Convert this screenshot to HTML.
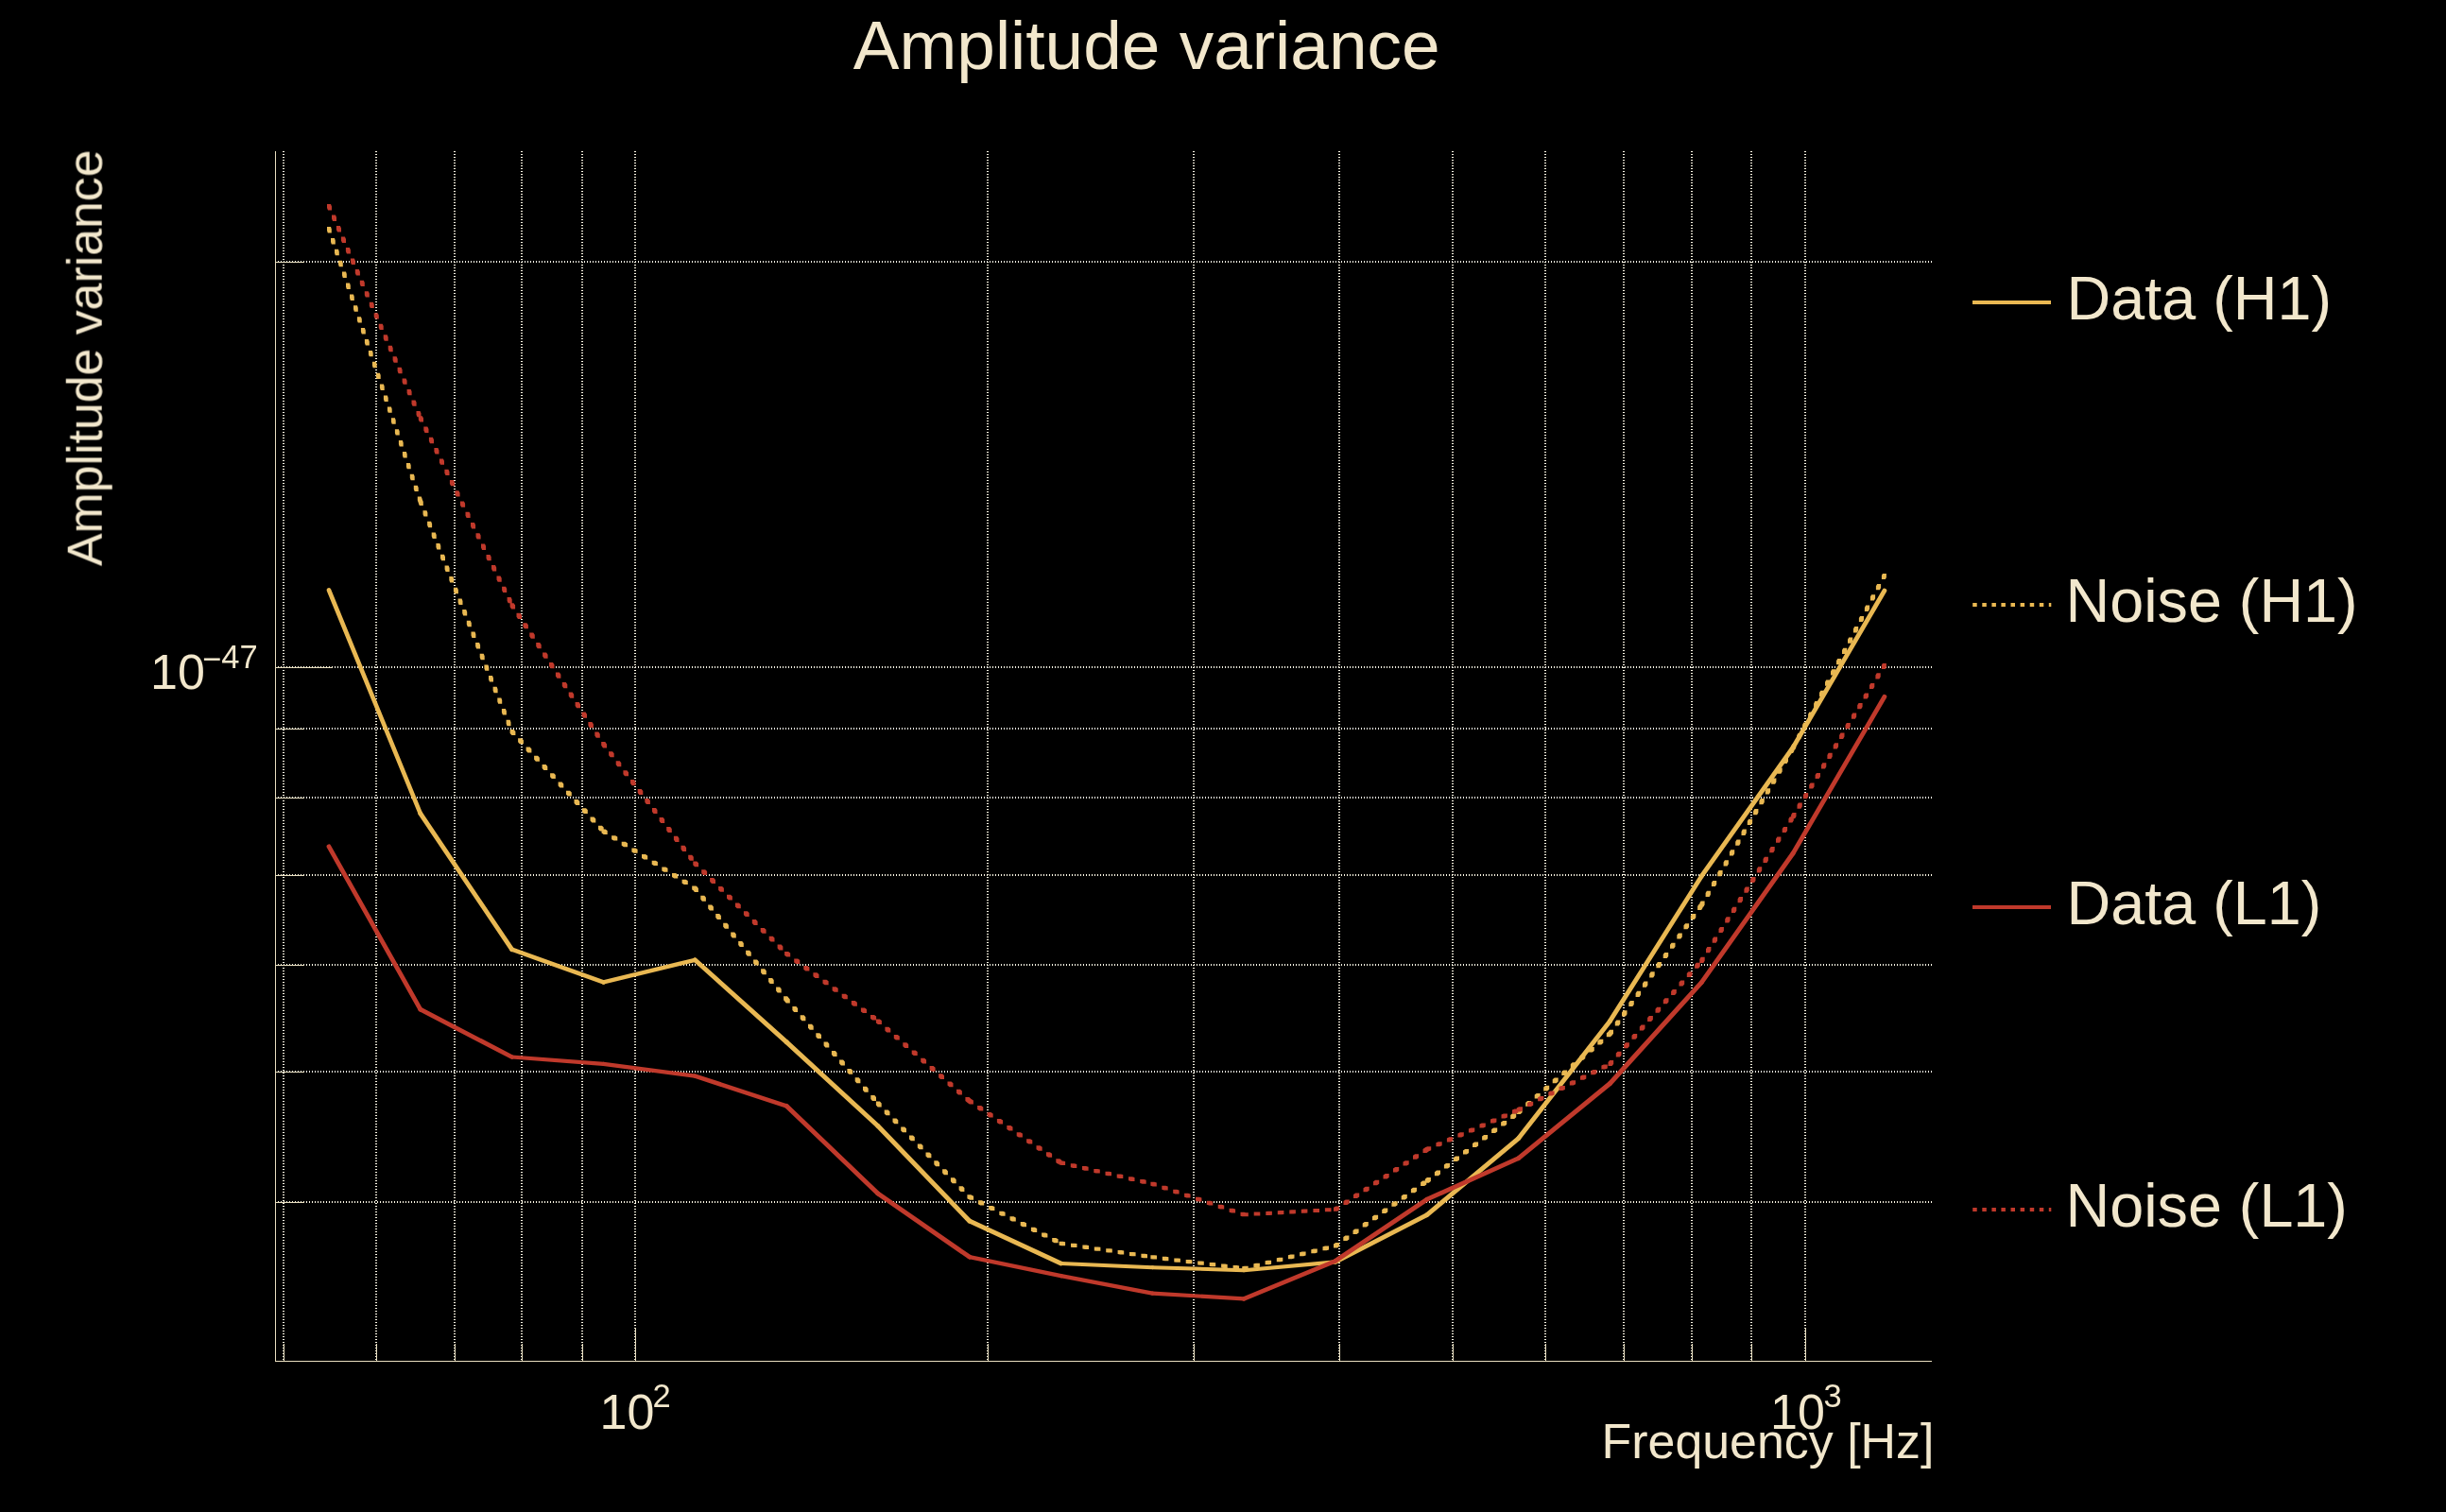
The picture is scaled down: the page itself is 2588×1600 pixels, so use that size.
<!DOCTYPE html>
<html lang="en"><head><meta charset="utf-8"><title>Amplitude variance</title>
<style>html,body{margin:0;padding:0;background:#000;overflow:hidden}svg{display:block}text{font-family:"Liberation Sans",sans-serif;fill:#f3e8cd}</style></head><body>
<svg width="2588" height="1600" viewBox="0 0 2588 1600">
<rect width="2588" height="1600" fill="#000"/>
<g stroke="#fdf8e6" stroke-width="2" stroke-dasharray="1 2" fill="none" shape-rendering="crispEdges">
<line x1="300" y1="160" x2="300" y2="1440"/>
<line x1="398" y1="160" x2="398" y2="1440"/>
<line x1="481" y1="160" x2="481" y2="1440"/>
<line x1="552" y1="160" x2="552" y2="1440"/>
<line x1="616" y1="160" x2="616" y2="1440"/>
<line x1="1045" y1="160" x2="1045" y2="1440"/>
<line x1="1263" y1="160" x2="1263" y2="1440"/>
<line x1="1417" y1="160" x2="1417" y2="1440"/>
<line x1="1537" y1="160" x2="1537" y2="1440"/>
<line x1="1635" y1="160" x2="1635" y2="1440"/>
<line x1="1718" y1="160" x2="1718" y2="1440"/>
<line x1="1790" y1="160" x2="1790" y2="1440"/>
<line x1="1853" y1="160" x2="1853" y2="1440"/>
<line x1="672" y1="160" x2="672" y2="1440"/>
<line x1="1910" y1="160" x2="1910" y2="1440"/>
<line x1="291" y1="277.0" x2="2044" y2="277.0"/>
<line x1="291" y1="706.0" x2="2044" y2="706.0"/>
<line x1="291" y1="771.0" x2="2044" y2="771.0"/>
<line x1="291" y1="844.0" x2="2044" y2="844.0"/>
<line x1="291" y1="926.0" x2="2044" y2="926.0"/>
<line x1="291" y1="1021.0" x2="2044" y2="1021.0"/>
<line x1="291" y1="1134.0" x2="2044" y2="1134.0"/>
<line x1="291" y1="1272.0" x2="2044" y2="1272.0"/>
</g>
<g fill="#e9dfc0" shape-rendering="crispEdges">
<rect x="291" y="160" width="1" height="1281"/>
<rect x="291" y="1440" width="1753" height="1"/>
<rect x="300" y="1422" width="1" height="18"/>
<rect x="398" y="1422" width="1" height="18"/>
<rect x="481" y="1422" width="1" height="18"/>
<rect x="552" y="1422" width="1" height="18"/>
<rect x="616" y="1422" width="1" height="18"/>
<rect x="1045" y="1422" width="1" height="18"/>
<rect x="1263" y="1422" width="1" height="18"/>
<rect x="1417" y="1422" width="1" height="18"/>
<rect x="1537" y="1422" width="1" height="18"/>
<rect x="1635" y="1422" width="1" height="18"/>
<rect x="1718" y="1422" width="1" height="18"/>
<rect x="1790" y="1422" width="1" height="18"/>
<rect x="1853" y="1422" width="1" height="18"/>
<rect x="672" y="1405" width="1" height="35"/>
<rect x="1910" y="1405" width="1" height="35"/>
<rect x="291" y="277" width="31" height="1"/>
<rect x="291" y="706" width="61" height="1"/>
<rect x="291" y="771" width="31" height="1"/>
<rect x="291" y="844" width="31" height="1"/>
<rect x="291" y="926" width="31" height="1"/>
<rect x="291" y="1021" width="31" height="1"/>
<rect x="291" y="1134" width="31" height="1"/>
<rect x="291" y="1272" width="31" height="1"/>
</g>
<g fill="none" stroke-width="4.3" stroke-linejoin="round" stroke-linecap="round">
<g stroke="#e9b852">
<line x1="348.0" y1="624.5" x2="444.8" y2="860.8" stroke-width="4.63"/>
<line x1="444.8" y1="860.8" x2="541.6" y2="1004.7" stroke-width="4.83"/>
<line x1="541.6" y1="1004.7" x2="638.5" y2="1039.4" stroke-width="4.57"/>
<line x1="638.5" y1="1039.4" x2="735.3" y2="1015.8" stroke-width="4.41"/>
<line x1="735.3" y1="1015.8" x2="832.1" y2="1102.6" stroke-width="4.89"/>
<line x1="832.1" y1="1102.6" x2="928.9" y2="1191.5" stroke-width="4.90"/>
<line x1="928.9" y1="1191.5" x2="1025.7" y2="1292.0" stroke-width="4.90"/>
<line x1="1025.7" y1="1292.0" x2="1122.6" y2="1337.0" stroke-width="4.69"/>
<line x1="1122.6" y1="1337.0" x2="1219.4" y2="1341.2" stroke-width="4.08"/>
<line x1="1219.4" y1="1341.2" x2="1316.2" y2="1344.2" stroke-width="4.06"/>
<line x1="1316.2" y1="1344.2" x2="1413.0" y2="1335.4" stroke-width="4.16"/>
<line x1="1413.0" y1="1335.4" x2="1509.8" y2="1285.6" stroke-width="4.73"/>
<line x1="1509.8" y1="1285.6" x2="1606.7" y2="1204.5" stroke-width="4.89"/>
<line x1="1606.7" y1="1204.5" x2="1703.5" y2="1080.4" stroke-width="4.87"/>
<line x1="1703.5" y1="1080.4" x2="1800.3" y2="927.2" stroke-width="4.81"/>
<line x1="1800.3" y1="927.2" x2="1897.1" y2="791.0" stroke-width="4.85"/>
<line x1="1897.1" y1="791.0" x2="1993.9" y2="625.0" stroke-width="4.78"/>
</g>
<path fill="#e9b852" stroke="none" d="M346 240L350 240L350.8 242.5L350.8 246.5L346.8 246.5L346 244ZM350 251.9L354 251.9L354.8 254.4L354.8 258.4L350.8 258.4L350 255.9ZM354 263.8L358 263.8L358.8 266.3L358.8 270.3L354.8 270.3L354 267.8ZM358 275.7L362 275.7L362.8 278.2L362.8 282.2L358.8 282.2L358 279.7ZM362 287.6L366 287.6L366.8 290.1L366.8 294.1L362.8 294.1L362 291.6ZM366 299.5L370 299.5L370.8 302L370.8 306L366.8 306L366 303.5ZM370 311.4L374 311.4L374.8 313.9L374.8 317.9L370.8 317.9L370 315.4ZM374 323.3L378 323.3L378.8 325.7L378.8 329.7L374.8 329.7L374 327.3ZM377.9 335.2L381.9 335.2L382.8 337.6L382.8 341.6L378.8 341.6L377.9 339.2ZM381.9 347.1L385.9 347.1L386.8 349.5L386.8 353.5L382.8 353.5L381.9 351.1ZM385.9 359L389.9 359L390.8 361.4L390.8 365.4L386.8 365.4L385.9 363ZM389.9 370.9L393.9 370.9L394.7 373.3L394.7 377.3L390.7 377.3L389.9 374.9ZM393.9 382.8L397.9 382.8L398.7 385.2L398.7 389.2L394.7 389.2L393.9 386.8ZM397.9 394.7L401.9 394.7L402.7 397.1L402.7 401.1L398.7 401.1L397.9 398.7ZM401.9 406.6L405.9 406.6L406.7 409L406.7 413L402.7 413L401.9 410.6ZM405.9 418.5L409.9 418.5L410.7 420.9L410.7 424.9L406.7 424.9L405.9 422.5ZM409.9 430.4L413.9 430.4L414.7 432.8L414.7 436.8L410.7 436.8L409.9 434.4ZM413.9 442.3L417.9 442.3L418.7 444.7L418.7 448.7L414.7 448.7L413.9 446.3ZM417.9 454.2L421.9 454.2L422.7 456.6L422.7 460.6L418.7 460.6L417.9 458.2ZM421.9 466.1L425.9 466.1L426.7 468.5L426.7 472.5L422.7 472.5L421.9 470.1ZM425.9 478L429.9 478L430.7 480.4L430.7 484.4L426.7 484.4L425.9 482ZM429.9 489.9L433.9 489.9L434.7 492.3L434.7 496.3L430.7 496.3L429.9 493.9ZM433.8 501.8L437.8 501.8L438.7 504.2L438.7 508.2L434.7 508.2L433.8 505.8ZM437.8 513.7L441.8 513.7L442.7 516.1L442.7 520.1L438.7 520.1L437.8 517.7ZM441.8 525.5L445.8 525.5L446.7 528L446.7 532L442.7 532L441.8 529.5ZM442.8 528.5L446.8 528.5L447.8 530.9L447.8 534.9L443.8 534.9L442.8 532.5ZM447.5 540.2L451.5 540.2L452.4 542.6L452.4 546.6L448.4 546.6L447.5 544.2ZM452.1 551.8L456.1 551.8L457.1 554.2L457.1 558.2L453.1 558.2L452.1 555.8ZM456.7 563.5L460.7 563.5L461.7 565.9L461.7 569.9L457.7 569.9L456.7 567.5ZM461.4 575.1L465.4 575.1L466.3 577.6L466.3 581.6L462.3 581.6L461.4 579.1ZM466 586.8L470 586.8L471 589.2L471 593.2L467 593.2L466 590.8ZM470.6 598.5L474.6 598.5L475.6 600.9L475.6 604.9L471.6 604.9L470.6 602.5ZM475.3 610.1L479.3 610.1L480.2 612.5L480.2 616.5L476.2 616.5L475.3 614.1ZM479.9 621.8L483.9 621.8L484.9 624.2L484.9 628.2L480.9 628.2L479.9 625.8ZM484.6 633.5L488.6 633.5L489.5 635.9L489.5 639.9L485.5 639.9L484.6 637.5ZM489.2 645.1L493.2 645.1L494.2 647.5L494.2 651.5L490.2 651.5L489.2 649.1ZM493.8 656.8L497.8 656.8L498.8 659.2L498.8 663.2L494.8 663.2L493.8 660.8ZM498.5 668.4L502.5 668.4L503.4 670.9L503.4 674.9L499.4 674.9L498.5 672.4ZM503.1 680.1L507.1 680.1L508.1 682.5L508.1 686.5L504.1 686.5L503.1 684.1ZM507.7 691.8L511.7 691.8L512.7 694.2L512.7 698.2L508.7 698.2L507.7 695.8ZM512.4 703.4L516.4 703.4L517.3 705.8L517.3 709.8L513.3 709.8L512.4 707.4ZM517 715.1L521 715.1L522 717.5L522 721.5L518 721.5L517 719.1ZM521.6 726.8L525.6 726.8L526.6 729.2L526.6 733.2L522.6 733.2L521.6 730.8ZM526.3 738.4L530.3 738.4L531.2 740.8L531.2 744.8L527.2 744.8L526.3 742.4ZM530.9 750.1L534.9 750.1L535.9 752.5L535.9 756.5L531.9 756.5L530.9 754.1ZM535.6 761.7L539.6 761.7L540.5 764.2L540.5 768.2L536.5 768.2L535.6 765.7ZM539.6 772L543.6 772L545.4 773.9L545.4 777.9L541.4 777.9L539.6 776ZM548.1 781.2L552.1 781.2L553.9 783.2L553.9 787.2L549.9 787.2L548.1 785.2ZM556.6 790.5L560.6 790.5L562.4 792.4L562.4 796.4L558.4 796.4L556.6 794.5ZM565.1 799.7L569.1 799.7L570.9 801.7L570.9 805.7L566.9 805.7L565.1 803.7ZM573.6 809L577.6 809L579.3 810.9L579.3 814.9L575.3 814.9L573.6 813ZM582.1 818.2L586.1 818.2L587.8 820.1L587.8 824.1L583.8 824.1L582.1 822.2ZM590.6 827.5L594.6 827.5L596.3 829.4L596.3 833.4L592.3 833.4L590.6 831.5ZM599 836.7L603 836.7L604.8 838.6L604.8 842.6L600.8 842.6L599 840.7ZM607.5 846L611.5 846L613.3 847.9L613.3 851.9L609.3 851.9L607.5 850ZM616 855.2L620 855.2L621.8 857.1L621.8 861.1L617.8 861.1L616 859.2ZM624.5 864.5L628.5 864.5L630.3 866.4L630.3 870.4L626.3 870.4L624.5 868.5ZM633 873.7L637 873.7L638.7 875.6L638.7 879.6L634.7 879.6L633 877.7ZM636.5 877.5L640.5 877.5L642.7 878.9L642.7 882.9L638.7 882.9L636.5 881.5ZM647.1 884.2L651.1 884.2L653.3 885.5L653.3 889.5L649.3 889.5L647.1 888.2ZM657.7 890.8L661.7 890.8L664 892.2L664 896.2L660 896.2L657.7 894.8ZM668.4 897.5L672.4 897.5L674.6 898.8L674.6 902.8L670.6 902.8L668.4 901.5ZM679 904.1L683 904.1L685.2 905.5L685.2 909.5L681.2 909.5L679 908.1ZM689.7 910.8L693.7 910.8L695.9 912.1L695.9 916.1L691.9 916.1L689.7 914.8ZM700.3 917.4L704.3 917.4L706.5 918.8L706.5 922.8L702.5 922.8L700.3 921.4ZM711 924.1L715 924.1L717.2 925.4L717.2 929.4L713.2 929.4L711 928.1ZM721.6 930.7L725.6 930.7L727.8 932.1L727.8 936.1L723.8 936.1L721.6 934.7ZM732.2 937.4L736.2 937.4L737.3 938L737.3 942L733.3 942L732.2 941.4ZM733.3 938L737.3 938L738.9 940L738.9 944L734.9 944L733.3 942ZM741.3 947.7L745.3 947.7L746.9 949.7L746.9 953.7L742.9 953.7L741.3 951.7ZM749.2 957.4L753.2 957.4L754.9 959.4L754.9 963.4L750.9 963.4L749.2 961.4ZM757.2 967.1L761.2 967.1L762.9 969.1L762.9 973.1L758.9 973.1L757.2 971.1ZM765.2 976.7L769.2 976.7L770.9 978.7L770.9 982.7L766.9 982.7L765.2 980.7ZM773.2 986.4L777.2 986.4L778.8 988.4L778.8 992.4L774.8 992.4L773.2 990.4ZM781.2 996.1L785.2 996.1L786.8 998.1L786.8 1002.1L782.8 1002.1L781.2 1000.1ZM789.1 1005.8L793.1 1005.8L794.8 1007.8L794.8 1011.8L790.8 1011.8L789.1 1009.8ZM797.1 1015.5L801.1 1015.5L802.8 1017.5L802.8 1021.5L798.8 1021.5L797.1 1019.5ZM805.1 1025.2L809.1 1025.2L810.8 1027.2L810.8 1031.2L806.8 1031.2L805.1 1029.2ZM813.1 1034.9L817.1 1034.9L818.7 1036.9L818.7 1040.9L814.7 1040.9L813.1 1038.9ZM821.1 1044.5L825.1 1044.5L826.7 1046.5L826.7 1050.5L822.7 1050.5L821.1 1048.5ZM829.1 1054.2L833.1 1054.2L834.1 1055.5L834.1 1059.5L830.1 1059.5L829.1 1058.2ZM830.1 1055.5L834.1 1055.5L835.8 1057.5L835.8 1061.5L831.8 1061.5L830.1 1059.5ZM838.4 1064.9L842.4 1064.9L844.1 1066.9L844.1 1070.9L840.1 1070.9L838.4 1068.9ZM846.7 1074.3L850.7 1074.3L852.4 1076.3L852.4 1080.3L848.4 1080.3L846.7 1078.3ZM855 1083.8L859 1083.8L860.7 1085.7L860.7 1089.7L856.7 1089.7L855 1087.8ZM863.3 1093.2L867.3 1093.2L869 1095.1L869 1099.1L865 1099.1L863.3 1097.2ZM871.6 1102.6L875.6 1102.6L877.3 1104.6L877.3 1108.6L873.3 1108.6L871.6 1106.6ZM879.9 1112L883.9 1112L885.6 1114L885.6 1118L881.6 1118L879.9 1116ZM888.1 1121.4L892.1 1121.4L893.9 1123.4L893.9 1127.4L889.9 1127.4L888.1 1125.4ZM896.4 1130.9L900.4 1130.9L902.2 1132.8L902.2 1136.8L898.2 1136.8L896.4 1134.9ZM904.7 1140.3L908.7 1140.3L910.4 1142.2L910.4 1146.2L906.4 1146.2L904.7 1144.3ZM913 1149.7L917 1149.7L918.7 1151.7L918.7 1155.7L914.7 1155.7L913 1153.7ZM921.3 1159.1L925.3 1159.1L927 1161.1L927 1165.1L923 1165.1L921.3 1163.1ZM926.9 1165.5L930.9 1165.5L932.7 1167.4L932.7 1171.4L928.7 1171.4L926.9 1169.5ZM935.7 1174.5L939.7 1174.5L941.5 1176.3L941.5 1180.3L937.5 1180.3L935.7 1178.5ZM944.5 1183.5L948.5 1183.5L950.3 1185.3L950.3 1189.3L946.3 1189.3L944.5 1187.5ZM953.2 1192.4L957.2 1192.4L959 1194.3L959 1198.3L955 1198.3L953.2 1196.4ZM962 1201.4L966 1201.4L967.8 1203.3L967.8 1207.3L963.8 1207.3L962 1205.4ZM970.8 1210.4L974.8 1210.4L976.6 1212.2L976.6 1216.2L972.6 1216.2L970.8 1214.4ZM979.5 1219.4L983.5 1219.4L985.4 1221.2L985.4 1225.2L981.4 1225.2L979.5 1223.4ZM988.3 1228.3L992.3 1228.3L994.1 1230.2L994.1 1234.2L990.1 1234.2L988.3 1232.3ZM997.1 1237.3L1001.1 1237.3L1002.9 1239.2L1002.9 1243.2L998.9 1243.2L997.1 1241.3ZM1005.9 1246.3L1009.9 1246.3L1011.7 1248.2L1011.7 1252.2L1007.7 1252.2L1005.9 1250.3ZM1014.6 1255.3L1018.6 1255.3L1020.4 1257.1L1020.4 1261.1L1016.4 1261.1L1014.6 1259.3ZM1023.4 1264.2L1027.4 1264.2L1027.7 1264.6L1027.7 1268.6L1023.7 1268.6L1023.4 1268.2ZM1023.7 1264.6L1027.7 1264.6L1030.1 1265.8L1030.1 1269.8L1026.1 1269.8L1023.7 1268.6ZM1034.9 1270.3L1038.9 1270.3L1041.2 1271.5L1041.2 1275.5L1037.2 1275.5L1034.9 1274.3ZM1046.1 1276L1050.1 1276L1052.4 1277.1L1052.4 1281.1L1048.4 1281.1L1046.1 1280ZM1057.3 1281.7L1061.3 1281.7L1063.6 1282.8L1063.6 1286.8L1059.6 1286.8L1057.3 1285.7ZM1068.5 1287.3L1072.5 1287.3L1074.8 1288.5L1074.8 1292.5L1070.8 1292.5L1068.5 1291.3ZM1079.7 1293L1083.7 1293L1086 1294.2L1086 1298.2L1082 1298.2L1079.7 1297ZM1090.9 1298.7L1094.9 1298.7L1097.2 1299.9L1097.2 1303.9L1093.2 1303.9L1090.9 1302.7ZM1102.1 1304.4L1106.1 1304.4L1108.4 1305.6L1108.4 1309.6L1104.4 1309.6L1102.1 1308.4ZM1113.2 1310.1L1117.2 1310.1L1119.6 1311.3L1119.6 1315.3L1115.6 1315.3L1113.2 1314.1ZM1120.6 1313.8L1124.6 1313.8L1127.1 1314.2L1127.1 1318.2L1123.1 1318.2L1120.6 1317.8ZM1133 1315.7L1137 1315.7L1139.5 1316L1139.5 1320L1135.5 1320L1133 1319.7ZM1145.4 1317.5L1149.4 1317.5L1152 1317.9L1152 1321.9L1148 1321.9L1145.4 1321.5ZM1157.8 1319.4L1161.8 1319.4L1164.4 1319.8L1164.4 1323.8L1160.4 1323.8L1157.8 1323.4ZM1170.2 1321.2L1174.2 1321.2L1176.8 1321.6L1176.8 1325.6L1172.8 1325.6L1170.2 1325.2ZM1182.6 1323.1L1186.6 1323.1L1189.2 1323.5L1189.2 1327.5L1185.2 1327.5L1182.6 1327.1ZM1195 1325L1199 1325L1201.6 1325.3L1201.6 1329.3L1197.6 1329.3L1195 1329ZM1207.4 1326.8L1211.4 1326.8L1214 1327.2L1214 1331.2L1210 1331.2L1207.4 1330.8ZM1217.4 1328.3L1221.4 1328.3L1224 1328.6L1224 1332.6L1220 1332.6L1217.4 1332.3ZM1229.8 1329.8L1233.8 1329.8L1236.4 1330.2L1236.4 1334.2L1232.4 1334.2L1229.8 1333.8ZM1242.3 1331.4L1246.3 1331.4L1248.9 1331.7L1248.9 1335.7L1244.9 1335.7L1242.3 1335.4ZM1254.7 1332.9L1258.7 1332.9L1261.3 1333.3L1261.3 1337.3L1257.3 1337.3L1254.7 1336.9ZM1267.2 1334.5L1271.2 1334.5L1273.8 1334.8L1273.8 1338.8L1269.8 1338.8L1267.2 1338.5ZM1279.7 1336L1283.7 1336L1286.2 1336.3L1286.2 1340.3L1282.2 1340.3L1279.7 1340ZM1292.1 1337.6L1296.1 1337.6L1298.7 1337.9L1298.7 1341.9L1294.7 1341.9L1292.1 1341.6ZM1304.6 1339.1L1308.6 1339.1L1311.1 1339.4L1311.1 1343.4L1307.1 1343.4L1304.6 1343.1ZM1314.2 1340.3L1316.7 1339.7L1320.7 1339.7L1320.7 1343.7L1318.2 1344.3L1314.2 1344.3ZM1326.4 1337.3L1328.9 1336.7L1332.9 1336.7L1332.9 1340.7L1330.4 1341.3L1326.4 1341.3ZM1338.6 1334.3L1341.1 1333.7L1345.1 1333.7L1345.1 1337.7L1342.6 1338.3L1338.6 1338.3ZM1350.8 1331.3L1353.3 1330.7L1357.3 1330.7L1357.3 1334.7L1354.8 1335.3L1350.8 1335.3ZM1362.9 1328.3L1365.5 1327.6L1369.5 1327.6L1369.5 1331.6L1366.9 1332.3L1362.9 1332.3ZM1375.1 1325.3L1377.6 1324.6L1381.6 1324.6L1381.6 1328.6L1379.1 1329.3L1375.1 1329.3ZM1387.3 1322.3L1389.8 1321.6L1393.8 1321.6L1393.8 1325.6L1391.3 1326.3L1387.3 1326.3ZM1399.5 1319.2L1402 1318.6L1406 1318.6L1406 1322.6L1403.5 1323.2L1399.5 1323.2ZM1411 1316.4L1413.1 1314.9L1417.1 1314.9L1417.1 1318.9L1415 1320.4L1411 1320.4ZM1421.3 1309.1L1423.4 1307.6L1427.4 1307.6L1427.4 1311.6L1425.3 1313.1L1421.3 1313.1ZM1431.5 1301.9L1433.6 1300.4L1437.6 1300.4L1437.6 1304.4L1435.5 1305.9L1431.5 1305.9ZM1441.7 1294.6L1443.8 1293.1L1447.8 1293.1L1447.8 1297.1L1445.7 1298.6L1441.7 1298.6ZM1452 1287.3L1454.1 1285.8L1458.1 1285.8L1458.1 1289.8L1456 1291.3L1452 1291.3ZM1462.2 1280.1L1464.3 1278.6L1468.3 1278.6L1468.3 1282.6L1466.2 1284.1L1462.2 1284.1ZM1472.4 1272.8L1474.6 1271.3L1478.6 1271.3L1478.6 1275.3L1476.4 1276.8L1472.4 1276.8ZM1482.7 1265.6L1484.8 1264.1L1488.8 1264.1L1488.8 1268.1L1486.7 1269.6L1482.7 1269.6ZM1492.9 1258.3L1495 1256.8L1499 1256.8L1499 1260.8L1496.9 1262.3L1492.9 1262.3ZM1503.1 1251L1505.3 1249.5L1509.3 1249.5L1509.3 1253.5L1507.1 1255L1503.1 1255ZM1507.8 1247.7L1509.9 1246.1L1513.9 1246.1L1513.9 1250.1L1511.8 1251.7L1507.8 1251.7ZM1517.9 1240.2L1520 1238.6L1524 1238.6L1524 1242.6L1521.9 1244.2L1517.9 1244.2ZM1527.9 1232.6L1530 1231.1L1534 1231.1L1534 1235.1L1531.9 1236.6L1527.9 1236.6ZM1537.9 1225.1L1540 1223.5L1544 1223.5L1544 1227.5L1541.9 1229.1L1537.9 1229.1ZM1548 1217.6L1550.1 1216L1554.1 1216L1554.1 1220L1552 1221.6L1548 1221.6ZM1558 1210L1560.1 1208.5L1564.1 1208.5L1564.1 1212.5L1562 1214L1558 1214ZM1568.1 1202.5L1570.1 1200.9L1574.1 1200.9L1574.1 1204.9L1572.1 1206.5L1568.1 1206.5ZM1578.1 1195L1580.2 1193.4L1584.2 1193.4L1584.2 1197.4L1582.1 1199L1578.1 1199ZM1588.1 1187.4L1590.2 1185.9L1594.2 1185.9L1594.2 1189.9L1592.1 1191.4L1588.1 1191.4ZM1598.2 1179.9L1600.2 1178.3L1604.2 1178.3L1604.2 1182.3L1602.2 1183.9L1598.2 1183.9ZM1604.7 1175L1606.6 1173.3L1610.6 1173.3L1610.6 1177.3L1608.7 1179L1604.7 1179ZM1614.2 1166.8L1616.2 1165.1L1620.2 1165.1L1620.2 1169.1L1618.2 1170.8L1614.2 1170.8ZM1623.7 1158.6L1625.7 1156.9L1629.7 1156.9L1629.7 1160.9L1627.7 1162.6L1623.7 1162.6ZM1633.2 1150.5L1635.2 1148.8L1639.2 1148.8L1639.2 1152.8L1637.2 1154.5L1633.2 1154.5ZM1642.7 1142.3L1644.7 1140.6L1648.7 1140.6L1648.7 1144.6L1646.7 1146.3L1642.7 1146.3ZM1652.3 1134.1L1654.2 1132.4L1658.2 1132.4L1658.2 1136.4L1656.3 1138.1L1652.3 1138.1ZM1661.8 1125.9L1663.7 1124.2L1667.7 1124.2L1667.7 1128.2L1665.8 1129.9L1661.8 1129.9ZM1671.3 1117.7L1673.3 1116L1677.3 1116L1677.3 1120L1675.3 1121.7L1671.3 1121.7ZM1680.8 1109.6L1682.8 1107.9L1686.8 1107.9L1686.8 1111.9L1684.8 1113.6L1680.8 1113.6ZM1690.3 1101.4L1692.3 1099.7L1696.3 1099.7L1696.3 1103.7L1694.3 1105.4L1690.3 1105.4ZM1699.8 1093.2L1701.5 1091.8L1705.5 1091.8L1705.5 1095.8L1703.8 1097.2L1699.8 1097.2ZM1701.5 1091.8L1703 1089.7L1707 1089.7L1707 1093.7L1705.5 1095.8L1701.5 1095.8ZM1708.8 1081.6L1710.3 1079.5L1714.3 1079.5L1714.3 1083.5L1712.8 1085.6L1708.8 1085.6ZM1716 1071.4L1717.5 1069.2L1721.5 1069.2L1721.5 1073.2L1720 1075.4L1716 1075.4ZM1723.3 1061.1L1724.8 1059L1728.8 1059L1728.8 1063L1727.3 1065.1L1723.3 1065.1ZM1730.6 1050.9L1732.1 1048.8L1736.1 1048.8L1736.1 1052.8L1734.6 1054.9L1730.6 1054.9ZM1737.9 1040.7L1739.4 1038.6L1743.4 1038.6L1743.4 1042.6L1741.9 1044.7L1737.9 1044.7ZM1745.2 1030.5L1746.7 1028.3L1750.7 1028.3L1750.7 1032.3L1749.2 1034.5L1745.2 1034.5ZM1752.4 1020.2L1753.9 1018.1L1757.9 1018.1L1757.9 1022.1L1756.4 1024.2L1752.4 1024.2ZM1759.7 1010L1761.2 1007.9L1765.2 1007.9L1765.2 1011.9L1763.7 1014L1759.7 1014ZM1767 999.8L1768.5 997.7L1772.5 997.7L1772.5 1001.7L1771 1003.8L1767 1003.8ZM1774.3 989.6L1775.8 987.4L1779.8 987.4L1779.8 991.4L1778.3 993.6L1774.3 993.6ZM1781.5 979.3L1783.1 977.2L1787.1 977.2L1787.1 981.2L1785.5 983.3L1781.5 983.3ZM1788.8 969.1L1790.3 967L1794.3 967L1794.3 971L1792.8 973.1L1788.8 973.1ZM1796.1 958.9L1797.6 956.8L1801.6 956.8L1801.6 960.8L1800.1 962.9L1796.1 962.9ZM1798.3 955.8L1799.6 953.6L1803.6 953.6L1803.6 957.6L1802.3 959.8L1798.3 959.8ZM1804.6 945L1805.9 942.7L1809.9 942.7L1809.9 946.7L1808.6 949L1804.6 949ZM1810.9 934.1L1812.2 931.9L1816.2 931.9L1816.2 935.9L1814.9 938.1L1810.9 938.1ZM1817.2 923.3L1818.6 921L1822.6 921L1822.6 925L1821.2 927.3L1817.2 927.3ZM1823.6 912.4L1824.9 910.2L1828.9 910.2L1828.9 914.2L1827.6 916.4L1823.6 916.4ZM1829.9 901.6L1831.2 899.3L1835.2 899.3L1835.2 903.3L1833.9 905.6L1829.9 905.6ZM1836.2 890.7L1837.5 888.5L1841.5 888.5L1841.5 892.5L1840.2 894.7L1836.2 894.7ZM1842.5 879.9L1843.8 877.6L1847.8 877.6L1847.8 881.6L1846.5 883.9L1842.5 883.9ZM1848.8 869L1850.1 866.8L1854.1 866.8L1854.1 870.8L1852.8 873L1848.8 873ZM1855.1 858.2L1856.4 855.9L1860.4 855.9L1860.4 859.9L1859.1 862.2L1855.1 862.2ZM1861.4 847.3L1862.8 845.1L1866.8 845.1L1866.8 849.1L1865.4 851.3L1861.4 851.3ZM1867.8 836.5L1869.1 834.2L1873.1 834.2L1873.1 838.2L1871.8 840.5L1867.8 840.5ZM1874.1 825.7L1875.4 823.4L1879.4 823.4L1879.4 827.4L1878.1 829.7L1874.1 829.7ZM1880.4 814.8L1881.7 812.6L1885.7 812.6L1885.7 816.6L1884.4 818.8L1880.4 818.8ZM1886.7 804L1888 801.7L1892 801.7L1892 805.7L1890.7 808L1886.7 808ZM1893 793.1L1894.3 790.9L1898.3 790.9L1898.3 794.9L1897 797.1L1893 797.1ZM1895.1 789.5L1896.3 787.2L1900.3 787.2L1900.3 791.2L1899.1 793.5L1895.1 793.5ZM1901.1 778.2L1902.3 775.9L1906.3 775.9L1906.3 779.9L1905.1 782.2L1901.1 782.2ZM1907.1 766.9L1908.3 764.6L1912.3 764.6L1912.3 768.6L1911.1 770.9L1907.1 770.9ZM1913.1 755.7L1914.3 753.4L1918.3 753.4L1918.3 757.4L1917.1 759.7L1913.1 759.7ZM1919.1 744.4L1920.3 742.1L1924.3 742.1L1924.3 746.1L1923.1 748.4L1919.1 748.4ZM1925 733.1L1926.3 730.8L1930.3 730.8L1930.3 734.8L1929 737.1L1925 737.1ZM1931 721.8L1932.2 719.5L1936.2 719.5L1936.2 723.5L1935 725.8L1931 725.8ZM1937 710.5L1938.2 708.2L1942.2 708.2L1942.2 712.2L1941 714.5L1937 714.5ZM1943 699.3L1944.2 697L1948.2 697L1948.2 701L1947 703.3L1943 703.3ZM1949 688L1950.2 685.7L1954.2 685.7L1954.2 689.7L1953 692L1949 692ZM1955 676.7L1956.2 674.4L1960.2 674.4L1960.2 678.4L1959 680.7L1955 680.7ZM1960.9 665.4L1962.2 663.1L1966.2 663.1L1966.2 667.1L1964.9 669.4L1960.9 669.4ZM1966.9 654.1L1968.1 651.9L1972.1 651.9L1972.1 655.9L1970.9 658.1L1966.9 658.1ZM1972.9 642.9L1974.1 640.6L1978.1 640.6L1978.1 644.6L1976.9 646.9L1972.9 646.9ZM1978.9 631.6L1980.1 629.3L1984.1 629.3L1984.1 633.3L1982.9 635.6L1978.9 635.6ZM1984.9 620.3L1986.1 618L1990.1 618L1990.1 622L1988.9 624.3L1984.9 624.3ZM1990.9 609L1991.9 607L1995.9 607L1995.9 611L1994.9 613L1990.9 613Z"/>
<g stroke="#c0392b">
<line x1="348.0" y1="895.8" x2="444.8" y2="1068.2" stroke-width="4.77"/>
<line x1="444.8" y1="1068.2" x2="541.6" y2="1118.5" stroke-width="4.74"/>
<line x1="541.6" y1="1118.5" x2="638.5" y2="1125.9" stroke-width="4.14"/>
<line x1="638.5" y1="1125.9" x2="735.3" y2="1138.6" stroke-width="4.23"/>
<line x1="735.3" y1="1138.6" x2="832.1" y2="1170.3" stroke-width="4.53"/>
<line x1="832.1" y1="1170.3" x2="928.9" y2="1263.0" stroke-width="4.90"/>
<line x1="928.9" y1="1263.0" x2="1025.7" y2="1330.1" stroke-width="4.84"/>
<line x1="1025.7" y1="1330.1" x2="1122.6" y2="1350.2" stroke-width="4.36"/>
<line x1="1122.6" y1="1350.2" x2="1219.4" y2="1368.6" stroke-width="4.33"/>
<line x1="1219.4" y1="1368.6" x2="1316.2" y2="1374.4" stroke-width="4.11"/>
<line x1="1316.2" y1="1374.4" x2="1413.0" y2="1334.3" stroke-width="4.64"/>
<line x1="1413.0" y1="1334.3" x2="1509.8" y2="1269.2" stroke-width="4.83"/>
<line x1="1509.8" y1="1269.2" x2="1606.7" y2="1225.7" stroke-width="4.67"/>
<line x1="1606.7" y1="1225.7" x2="1703.5" y2="1146.5" stroke-width="4.88"/>
<line x1="1703.5" y1="1146.5" x2="1800.3" y2="1039.6" stroke-width="4.90"/>
<line x1="1800.3" y1="1039.6" x2="1897.1" y2="903.0" stroke-width="4.85"/>
<line x1="1897.1" y1="903.0" x2="1993.9" y2="737.3" stroke-width="4.78"/>
</g>
<path fill="#c0392b" stroke="none" d="M346 216L350 216L351 218.4L351 222.4L347 222.4L346 220ZM351 227.5L355 227.5L356 229.9L356 233.9L352 233.9L351 231.5ZM355.9 239L359.9 239L361 241.4L361 245.4L357 245.4L355.9 243ZM360.9 250.6L364.9 250.6L366 253L366 257L362 257L360.9 254.6ZM365.9 262.1L369.9 262.1L370.9 264.5L370.9 268.5L366.9 268.5L365.9 266.1ZM370.9 273.6L374.9 273.6L375.9 276L375.9 280L371.9 280L370.9 277.6ZM375.8 285.1L379.8 285.1L380.9 287.5L380.9 291.5L376.9 291.5L375.8 289.1ZM380.8 296.7L384.8 296.7L385.8 299L385.8 303L381.8 303L380.8 300.7ZM385.8 308.2L389.8 308.2L390.8 310.6L390.8 314.6L386.8 314.6L385.8 312.2ZM390.8 319.7L394.8 319.7L395.8 322.1L395.8 326.1L391.8 326.1L390.8 323.7ZM395.7 331.2L399.7 331.2L400.8 333.6L400.8 337.6L396.8 337.6L395.7 335.2ZM400.7 342.7L404.7 342.7L405.7 345.1L405.7 349.1L401.7 349.1L400.7 346.7ZM405.7 354.3L409.7 354.3L410.7 356.7L410.7 360.7L406.7 360.7L405.7 358.3ZM410.7 365.8L414.7 365.8L415.7 368.2L415.7 372.2L411.7 372.2L410.7 369.8ZM415.6 377.3L419.6 377.3L420.7 379.7L420.7 383.7L416.7 383.7L415.6 381.3ZM420.6 388.8L424.6 388.8L425.6 391.2L425.6 395.2L421.6 395.2L420.6 392.8ZM425.6 400.4L429.6 400.4L430.6 402.7L430.6 406.7L426.6 406.7L425.6 404.4ZM430.6 411.9L434.6 411.9L435.6 414.3L435.6 418.3L431.6 418.3L430.6 415.9ZM435.5 423.4L439.5 423.4L440.6 425.8L440.6 429.8L436.6 429.8L435.5 427.4ZM440.5 434.9L444.5 434.9L445.5 437.3L445.5 441.3L441.5 441.3L440.5 438.9ZM442.8 440.3L446.8 440.3L448 442.6L448 446.6L444 446.6L442.8 444.3ZM448.3 451.6L452.3 451.6L453.5 453.9L453.5 457.9L449.5 457.9L448.3 455.6ZM453.9 462.8L457.9 462.8L459 465.2L459 469.2L455 469.2L453.9 466.8ZM459.4 474.1L463.4 474.1L464.5 476.5L464.5 480.5L460.5 480.5L459.4 478.1ZM464.9 485.4L468.9 485.4L470 487.7L470 491.7L466 491.7L464.9 489.4ZM470.4 496.7L474.4 496.7L475.5 499L475.5 503L471.5 503L470.4 500.7ZM475.9 507.9L479.9 507.9L481.1 510.3L481.1 514.3L477.1 514.3L475.9 511.9ZM481.4 519.2L485.4 519.2L486.6 521.5L486.6 525.5L482.6 525.5L481.4 523.2ZM486.9 530.5L490.9 530.5L492.1 532.8L492.1 536.8L488.1 536.8L486.9 534.5ZM492.5 541.8L496.5 541.8L497.6 544.1L497.6 548.1L493.6 548.1L492.5 545.8ZM498 553L502 553L503.1 555.4L503.1 559.4L499.1 559.4L498 557ZM503.5 564.3L507.5 564.3L508.6 566.6L508.6 570.6L504.6 570.6L503.5 568.3ZM509 575.6L513 575.6L514.1 577.9L514.1 581.9L510.1 581.9L509 579.6ZM514.5 586.9L518.5 586.9L519.7 589.2L519.7 593.2L515.7 593.2L514.5 590.9ZM520 598.1L524 598.1L525.2 600.5L525.2 604.5L521.2 604.5L520 602.1ZM525.5 609.4L529.5 609.4L530.7 611.7L530.7 615.7L526.7 615.7L525.5 613.4ZM531.1 620.7L535.1 620.7L536.2 623L536.2 627L532.2 627L531.1 624.7ZM536.6 631.9L540.6 631.9L541.7 634.3L541.7 638.3L537.7 638.3L536.6 635.9ZM539.6 638.2L543.6 638.2L545.1 640.4L545.1 644.4L541.1 644.4L539.6 642.2ZM546.5 648.7L550.5 648.7L552 650.9L552 654.9L548 654.9L546.5 652.7ZM553.4 659.2L557.4 659.2L558.9 661.3L558.9 665.3L554.9 665.3L553.4 663.2ZM560.3 669.6L564.3 669.6L565.8 671.8L565.8 675.8L561.8 675.8L560.3 673.6ZM567.2 680.1L571.2 680.1L572.7 682.3L572.7 686.3L568.7 686.3L567.2 684.1ZM574.1 690.6L578.1 690.6L579.6 692.8L579.6 696.8L575.6 696.8L574.1 694.6ZM581 701.1L585 701.1L586.5 703.3L586.5 707.3L582.5 707.3L581 705.1ZM587.9 711.6L591.9 711.6L593.4 713.8L593.4 717.8L589.4 717.8L587.9 715.6ZM594.8 722.1L598.8 722.1L600.3 724.2L600.3 728.2L596.3 728.2L594.8 726.1ZM601.7 732.5L605.7 732.5L607.2 734.7L607.2 738.7L603.2 738.7L601.7 736.5ZM608.6 743L612.6 743L614.1 745.2L614.1 749.2L610.1 749.2L608.6 747ZM615.5 753.5L619.5 753.5L621 755.7L621 759.7L617 759.7L615.5 757.5ZM622.4 764L626.4 764L627.9 766.2L627.9 770.2L623.9 770.2L622.4 768ZM629.3 774.5L633.3 774.5L634.8 776.7L634.8 780.7L630.8 780.7L629.3 778.5ZM636.2 785L640.2 785L640.5 785.3L640.5 789.3L636.5 789.3L636.2 789ZM636.5 785.3L640.5 785.3L642 787.4L642 791.4L638 791.4L636.5 789.3ZM644.1 795.3L648.1 795.3L649.7 797.3L649.7 801.3L645.7 801.3L644.1 799.3ZM651.7 805.2L655.7 805.2L657.3 807.3L657.3 811.3L653.3 811.3L651.7 809.2ZM659.4 815.2L663.4 815.2L665 817.2L665 821.2L661 821.2L659.4 819.2ZM667 825.1L671 825.1L672.6 827.2L672.6 831.2L668.6 831.2L667 829.1ZM674.7 835.1L678.7 835.1L680.3 837.1L680.3 841.1L676.3 841.1L674.7 839.1ZM682.3 845L686.3 845L687.9 847.1L687.9 851.1L683.9 851.1L682.3 849ZM690 855L694 855L695.5 857L695.5 861L691.5 861L690 859ZM697.6 864.9L701.6 864.9L703.2 867L703.2 871L699.2 871L697.6 868.9ZM705.2 874.9L709.2 874.9L710.8 877L710.8 881L706.8 881L705.2 878.9ZM712.9 884.8L716.9 884.8L718.5 886.9L718.5 890.9L714.5 890.9L712.9 888.8ZM720.5 894.8L724.5 894.8L726.1 896.9L726.1 900.9L722.1 900.9L720.5 898.8ZM728.2 904.8L732.2 904.8L733.8 906.8L733.8 910.8L729.8 910.8L728.2 908.8ZM733.3 911.4L737.3 911.4L739.1 913.2L739.1 917.2L735.1 917.2L733.3 915.4ZM742.2 920.2L746.2 920.2L748.1 922L748.1 926L744.1 926L742.2 924.2ZM751.1 929L755.1 929L757 930.9L757 934.9L753 934.9L751.1 933ZM760.1 937.9L764.1 937.9L765.9 939.7L765.9 943.7L761.9 943.7L760.1 941.9ZM769 946.7L773 946.7L774.9 948.5L774.9 952.5L770.9 952.5L769 950.7ZM777.9 955.5L781.9 955.5L783.8 957.3L783.8 961.3L779.8 961.3L777.9 959.5ZM786.9 964.3L790.9 964.3L792.7 966.1L792.7 970.1L788.7 970.1L786.9 968.3ZM795.8 973.1L799.8 973.1L801.6 975L801.6 979L797.6 979L795.8 977.1ZM804.7 981.9L808.7 981.9L810.6 983.8L810.6 987.8L806.6 987.8L804.7 985.9ZM813.7 990.8L817.7 990.8L819.5 992.6L819.5 996.6L815.5 996.6L813.7 994.8ZM822.6 999.6L826.6 999.6L828.4 1001.4L828.4 1005.4L824.4 1005.4L822.6 1003.6ZM830.1 1007L834.1 1007L836.2 1008.5L836.2 1012.5L832.2 1012.5L830.1 1011ZM840.2 1014.4L844.2 1014.4L846.3 1016L846.3 1020L842.3 1020L840.2 1018.4ZM850.3 1021.9L854.3 1021.9L856.4 1023.4L856.4 1027.4L852.4 1027.4L850.3 1025.9ZM860.4 1029.3L864.4 1029.3L866.5 1030.9L866.5 1034.9L862.5 1034.9L860.4 1033.3ZM870.5 1036.8L874.5 1036.8L876.6 1038.3L876.6 1042.3L872.6 1042.3L870.5 1040.8ZM880.6 1044.2L884.6 1044.2L886.7 1045.8L886.7 1049.8L882.7 1049.8L880.6 1048.2ZM890.7 1051.7L894.7 1051.7L896.8 1053.2L896.8 1057.2L892.8 1057.2L890.7 1055.7ZM900.8 1059.1L904.8 1059.1L906.9 1060.7L906.9 1064.7L902.9 1064.7L900.8 1063.1ZM910.9 1066.6L914.9 1066.6L917 1068.1L917 1072.1L913 1072.1L910.9 1070.6ZM921 1074L925 1074L927.1 1075.6L927.1 1079.6L923.1 1079.6L921 1078ZM926.9 1078.4L930.9 1078.4L932.9 1080.1L932.9 1084.1L928.9 1084.1L926.9 1082.4ZM936.4 1086.7L940.4 1086.7L942.3 1088.4L942.3 1092.4L938.3 1092.4L936.4 1090.7ZM945.8 1094.9L949.8 1094.9L951.8 1096.6L951.8 1100.6L947.8 1100.6L945.8 1098.9ZM955.3 1103.2L959.3 1103.2L961.2 1104.9L961.2 1108.9L957.2 1108.9L955.3 1107.2ZM964.7 1111.4L968.7 1111.4L970.7 1113.1L970.7 1117.1L966.7 1117.1L964.7 1115.4ZM974.2 1119.7L978.2 1119.7L980.1 1121.4L980.1 1125.4L976.1 1125.4L974.2 1123.7ZM983.6 1127.9L987.6 1127.9L989.6 1129.7L989.6 1133.7L985.6 1133.7L983.6 1131.9ZM993.1 1136.2L997.1 1136.2L999 1137.9L999 1141.9L995 1141.9L993.1 1140.2ZM1002.5 1144.5L1006.5 1144.5L1008.5 1146.2L1008.5 1150.2L1004.5 1150.2L1002.5 1148.5ZM1012 1152.7L1016 1152.7L1017.9 1154.4L1017.9 1158.4L1013.9 1158.4L1012 1156.7ZM1021.4 1161L1025.4 1161L1027.4 1162.7L1027.4 1166.7L1023.4 1166.7L1021.4 1165ZM1023.7 1163L1027.7 1163L1029.9 1164.5L1029.9 1168.5L1025.9 1168.5L1023.7 1167ZM1034.1 1170L1038.1 1170L1040.3 1171.5L1040.3 1175.5L1036.3 1175.5L1034.1 1174ZM1044.5 1177.1L1048.5 1177.1L1050.7 1178.5L1050.7 1182.5L1046.7 1182.5L1044.5 1181.1ZM1054.9 1184.1L1058.9 1184.1L1061.1 1185.6L1061.1 1189.6L1057.1 1189.6L1054.9 1188.1ZM1065.3 1191.1L1069.3 1191.1L1071.5 1192.6L1071.5 1196.6L1067.5 1196.6L1065.3 1195.1ZM1075.7 1198.2L1079.7 1198.2L1081.9 1199.6L1081.9 1203.6L1077.9 1203.6L1075.7 1202.2ZM1086.1 1205.2L1090.1 1205.2L1092.3 1206.6L1092.3 1210.6L1088.3 1210.6L1086.1 1209.2ZM1096.5 1212.2L1100.5 1212.2L1102.7 1213.7L1102.7 1217.7L1098.7 1217.7L1096.5 1216.2ZM1106.9 1219.3L1110.9 1219.3L1113.1 1220.7L1113.1 1224.7L1109.1 1224.7L1106.9 1223.3ZM1117.3 1226.3L1121.3 1226.3L1123.4 1227.7L1123.4 1231.7L1119.4 1231.7L1117.3 1230.3ZM1120.6 1228.5L1124.6 1228.5L1127.1 1229.1L1127.1 1233.1L1123.1 1233.1L1120.6 1232.5ZM1132.8 1231.3L1136.8 1231.3L1139.3 1231.9L1139.3 1235.9L1135.3 1235.9L1132.8 1235.3ZM1145 1234.1L1149 1234.1L1151.6 1234.7L1151.6 1238.7L1147.6 1238.7L1145 1238.1ZM1157.3 1236.9L1161.3 1236.9L1163.8 1237.5L1163.8 1241.5L1159.8 1241.5L1157.3 1240.9ZM1169.5 1239.7L1173.5 1239.7L1176 1240.3L1176 1244.3L1172 1244.3L1169.5 1243.7ZM1181.7 1242.5L1185.7 1242.5L1188.3 1243.1L1188.3 1247.1L1184.3 1247.1L1181.7 1246.5ZM1194 1245.3L1198 1245.3L1200.5 1245.9L1200.5 1249.9L1196.5 1249.9L1194 1249.3ZM1206.2 1248.1L1210.2 1248.1L1212.7 1248.7L1212.7 1252.7L1208.7 1252.7L1206.2 1252.1ZM1217.4 1250.7L1221.4 1250.7L1223.8 1251.5L1223.8 1255.5L1219.8 1255.5L1217.4 1254.7ZM1229.3 1254.7L1233.3 1254.7L1235.7 1255.5L1235.7 1259.5L1231.7 1259.5L1229.3 1258.7ZM1241.2 1258.7L1245.2 1258.7L1247.6 1259.5L1247.6 1263.5L1243.6 1263.5L1241.2 1262.7ZM1253.1 1262.7L1257.1 1262.7L1259.5 1263.5L1259.5 1267.5L1255.5 1267.5L1253.1 1266.7ZM1265 1266.7L1269 1266.7L1271.4 1267.5L1271.4 1271.5L1267.4 1271.5L1265 1270.7ZM1276.8 1270.7L1280.8 1270.7L1283.3 1271.6L1283.3 1275.6L1279.3 1275.6L1276.8 1274.7ZM1288.7 1274.7L1292.7 1274.7L1295.2 1275.6L1295.2 1279.6L1291.2 1279.6L1288.7 1278.7ZM1300.6 1278.7L1304.6 1278.7L1307.1 1279.6L1307.1 1283.6L1303.1 1283.6L1300.6 1282.7ZM1312.5 1282.7L1316.5 1282.7L1318.2 1283.3L1318.2 1287.3L1314.2 1287.3L1312.5 1286.7ZM1314.2 1283.3L1316.8 1283.2L1320.8 1283.2L1320.8 1287.2L1318.2 1287.3L1314.2 1287.3ZM1326.7 1282.6L1329.3 1282.4L1333.3 1282.4L1333.3 1286.4L1330.7 1286.6L1326.7 1286.6ZM1339.3 1281.9L1341.9 1281.7L1345.9 1281.7L1345.9 1285.7L1343.3 1285.9L1339.3 1285.9ZM1351.8 1281.2L1354.4 1281L1358.4 1281L1358.4 1285L1355.8 1285.2L1351.8 1285.2ZM1364.3 1280.5L1366.9 1280.3L1370.9 1280.3L1370.9 1284.3L1368.3 1284.5L1364.3 1284.5ZM1376.8 1279.7L1379.4 1279.6L1383.4 1279.6L1383.4 1283.6L1380.8 1283.7L1376.8 1283.7ZM1389.4 1279L1392 1278.9L1396 1278.9L1396 1282.9L1393.4 1283L1389.4 1283ZM1401.9 1278.3L1404.5 1278.2L1408.5 1278.2L1408.5 1282.2L1405.9 1282.3L1401.9 1282.3ZM1411 1277.8L1413.2 1276.4L1417.2 1276.4L1417.2 1280.4L1415 1281.8L1411 1281.8ZM1421.5 1270.9L1423.7 1269.5L1427.7 1269.5L1427.7 1273.5L1425.5 1274.9L1421.5 1274.9ZM1432 1264L1434.2 1262.6L1438.2 1262.6L1438.2 1266.6L1436 1268L1432 1268ZM1442.5 1257.2L1444.7 1255.7L1448.7 1255.7L1448.7 1259.7L1446.5 1261.2L1442.5 1261.2ZM1453 1250.3L1455.2 1248.8L1459.2 1248.8L1459.2 1252.8L1457 1254.3L1453 1254.3ZM1463.5 1243.4L1465.7 1242L1469.7 1242L1469.7 1246L1467.5 1247.4L1463.5 1247.4ZM1474 1236.5L1476.2 1235.1L1480.2 1235.1L1480.2 1239.1L1478 1240.5L1474 1240.5ZM1484.5 1229.6L1486.7 1228.2L1490.7 1228.2L1490.7 1232.2L1488.5 1233.6L1484.5 1233.6ZM1495 1222.7L1497.1 1221.3L1501.1 1221.3L1501.1 1225.3L1499 1226.7L1495 1226.7ZM1505.5 1215.9L1507.6 1214.4L1511.6 1214.4L1511.6 1218.4L1509.5 1219.9L1505.5 1219.9ZM1507.8 1214.3L1510.2 1213.3L1514.2 1213.3L1514.2 1217.3L1511.8 1218.3L1507.8 1218.3ZM1519.4 1209.3L1521.7 1208.3L1525.7 1208.3L1525.7 1212.3L1523.4 1213.3L1519.4 1213.3ZM1530.9 1204.4L1533.3 1203.3L1537.3 1203.3L1537.3 1207.3L1534.9 1208.4L1530.9 1208.4ZM1542.4 1199.4L1544.8 1198.3L1548.8 1198.3L1548.8 1202.3L1546.4 1203.4L1542.4 1203.4ZM1553.9 1194.4L1556.3 1193.4L1560.3 1193.4L1560.3 1197.4L1557.9 1198.4L1553.9 1198.4ZM1565.5 1189.4L1567.8 1188.4L1571.8 1188.4L1571.8 1192.4L1569.5 1193.4L1565.5 1193.4ZM1577 1184.5L1579.4 1183.4L1583.4 1183.4L1583.4 1187.4L1581 1188.5L1577 1188.5ZM1588.5 1179.5L1590.9 1178.4L1594.9 1178.4L1594.9 1182.4L1592.5 1183.5L1588.5 1183.5ZM1600 1174.5L1602.4 1173.5L1606.4 1173.5L1606.4 1177.5L1604 1178.5L1600 1178.5ZM1604.7 1172.5L1607 1171.3L1611 1171.3L1611 1175.3L1608.7 1176.5L1604.7 1176.5ZM1615.9 1166.9L1618.2 1165.7L1622.2 1165.7L1622.2 1169.7L1619.9 1170.9L1615.9 1170.9ZM1627.1 1161.3L1629.4 1160.1L1633.4 1160.1L1633.4 1164.1L1631.1 1165.3L1627.1 1165.3ZM1638.3 1155.6L1640.6 1154.5L1644.6 1154.5L1644.6 1158.5L1642.3 1159.6L1638.3 1159.6ZM1649.5 1150L1651.9 1148.9L1655.9 1148.9L1655.9 1152.9L1653.5 1154L1649.5 1154ZM1660.8 1144.4L1663.1 1143.2L1667.1 1143.2L1667.1 1147.2L1664.8 1148.4L1660.8 1148.4ZM1672 1138.8L1674.3 1137.6L1678.3 1137.6L1678.3 1141.6L1676 1142.8L1672 1142.8ZM1683.2 1133.2L1685.5 1132L1689.5 1132L1689.5 1136L1687.2 1137.2L1683.2 1137.2ZM1694.4 1127.5L1696.8 1126.4L1700.8 1126.4L1700.8 1130.4L1698.4 1131.5L1694.4 1131.5ZM1701.5 1124L1703.2 1122.1L1707.2 1122.1L1707.2 1126.1L1705.5 1128L1701.5 1128ZM1709.8 1114.6L1711.5 1112.7L1715.5 1112.7L1715.5 1116.7L1713.8 1118.6L1709.8 1118.6ZM1718.1 1105.2L1719.9 1103.3L1723.9 1103.3L1723.9 1107.3L1722.1 1109.2L1718.1 1109.2ZM1726.5 1095.8L1728.2 1093.9L1732.2 1093.9L1732.2 1097.9L1730.5 1099.8L1726.5 1099.8ZM1734.8 1086.5L1736.5 1084.5L1740.5 1084.5L1740.5 1088.5L1738.8 1090.5L1734.8 1090.5ZM1743.1 1077.1L1744.9 1075.1L1748.9 1075.1L1748.9 1079.1L1747.1 1081.1L1743.1 1081.1ZM1751.5 1067.7L1753.2 1065.7L1757.2 1065.7L1757.2 1069.7L1755.5 1071.7L1751.5 1071.7ZM1759.8 1058.3L1761.5 1056.3L1765.5 1056.3L1765.5 1060.3L1763.8 1062.3L1759.8 1062.3ZM1768.1 1048.9L1769.8 1047L1773.8 1047L1773.8 1051L1772.1 1052.9L1768.1 1052.9ZM1776.5 1039.5L1778.2 1037.6L1782.2 1037.6L1782.2 1041.6L1780.5 1043.5L1776.5 1043.5ZM1784.8 1030.1L1786.5 1028.2L1790.5 1028.2L1790.5 1032.2L1788.8 1034.1L1784.8 1034.1ZM1793.1 1020.7L1794.8 1018.8L1798.8 1018.8L1798.8 1022.8L1797.1 1024.7L1793.1 1024.7ZM1798.3 1014.9L1799.7 1012.7L1803.7 1012.7L1803.7 1016.7L1802.3 1018.9L1798.3 1018.9ZM1805 1004.3L1806.4 1002.1L1810.4 1002.1L1810.4 1006.1L1809 1008.3L1805 1008.3ZM1811.7 993.7L1813.1 991.5L1817.1 991.5L1817.1 995.5L1815.7 997.7L1811.7 997.7ZM1818.5 983.1L1819.9 980.9L1823.9 980.9L1823.9 984.9L1822.5 987.1L1818.5 987.1ZM1825.2 972.5L1826.6 970.3L1830.6 970.3L1830.6 974.3L1829.2 976.5L1825.2 976.5ZM1831.9 961.9L1833.3 959.7L1837.3 959.7L1837.3 963.7L1835.9 965.9L1831.9 965.9ZM1838.6 951.3L1840 949.1L1844 949.1L1844 953.1L1842.6 955.3L1838.6 955.3ZM1845.4 940.7L1846.8 938.5L1850.8 938.5L1850.8 942.5L1849.4 944.7L1845.4 944.7ZM1852.1 930.1L1853.5 927.9L1857.5 927.9L1857.5 931.9L1856.1 934.1L1852.1 934.1ZM1858.8 919.5L1860.2 917.3L1864.2 917.3L1864.2 921.3L1862.8 923.5L1858.8 923.5ZM1865.5 908.9L1866.9 906.7L1870.9 906.7L1870.9 910.7L1869.5 912.9L1865.5 912.9ZM1872.3 898.3L1873.7 896.1L1877.7 896.1L1877.7 900.1L1876.3 902.3L1872.3 902.3ZM1879 887.7L1880.4 885.5L1884.4 885.5L1884.4 889.5L1883 891.7L1879 891.7ZM1885.7 877.1L1887.1 874.9L1891.1 874.9L1891.1 878.9L1889.7 881.1L1885.7 881.1ZM1892.4 866.5L1893.8 864.3L1897.8 864.3L1897.8 868.3L1896.4 870.5L1892.4 870.5ZM1895.1 862.3L1896.5 860.1L1900.5 860.1L1900.5 864.1L1899.1 866.3L1895.1 866.3ZM1901.5 851.7L1902.8 849.5L1906.8 849.5L1906.8 853.5L1905.5 855.7L1901.5 855.7ZM1907.9 841.2L1909.2 839L1913.2 839L1913.2 843L1911.9 845.2L1907.9 845.2ZM1914.2 830.6L1915.6 828.4L1919.6 828.4L1919.6 832.4L1918.2 834.6L1914.2 834.6ZM1920.6 820.1L1922 817.9L1926 817.9L1926 821.9L1924.6 824.1L1920.6 824.1ZM1927 809.5L1928.3 807.3L1932.3 807.3L1932.3 811.3L1931 813.5L1927 813.5ZM1933.4 799L1934.7 796.7L1938.7 796.7L1938.7 800.7L1937.4 803L1933.4 803ZM1939.7 788.4L1941.1 786.2L1945.1 786.2L1945.1 790.2L1943.7 792.4L1939.7 792.4ZM1946.1 777.9L1947.5 775.6L1951.5 775.6L1951.5 779.6L1950.1 781.9L1946.1 781.9ZM1952.5 767.3L1953.8 765.1L1957.8 765.1L1957.8 769.1L1956.5 771.3L1952.5 771.3ZM1958.9 756.7L1960.2 754.5L1964.2 754.5L1964.2 758.5L1962.9 760.7L1958.9 760.7ZM1965.2 746.2L1966.6 744L1970.6 744L1970.6 748L1969.2 750.2L1965.2 750.2ZM1971.6 735.6L1973 733.4L1977 733.4L1977 737.4L1975.6 739.6L1971.6 739.6ZM1978 725.1L1979.3 722.9L1983.3 722.9L1983.3 726.9L1982 729.1L1978 729.1ZM1984.4 714.5L1985.7 712.3L1989.7 712.3L1989.7 716.3L1988.4 718.5L1984.4 718.5ZM1990.8 704L1991.9 702L1995.9 702L1995.9 706L1994.8 708L1990.8 708Z"/>
</g>
<g stroke-width="4" fill="none" shape-rendering="crispEdges">
<line x1="2087" y1="320" x2="2170" y2="320" stroke="#e9b852"/>
<path fill="#e9b852" stroke="none" shape-rendering="auto" d="M2087.2 638h4.5v4h-4.5zM2097.3 638h4.5v4h-4.5zM2107.4 638h4.5v4h-4.5zM2117.4 638h4.5v4h-4.5zM2127.5 638h4.5v4h-4.5zM2137.6 638h4.5v4h-4.5zM2147.7 638h4.5v4h-4.5zM2157.8 638h4.5v4h-4.5zM2167.8 638h2.5v4h-2.5z"/>
<line x1="2087" y1="960" x2="2170" y2="960" stroke="#c0392b"/>
<path fill="#c0392b" stroke="none" shape-rendering="auto" d="M2087.2 1278h4.5v4h-4.5zM2097.3 1278h4.5v4h-4.5zM2107.4 1278h4.5v4h-4.5zM2117.4 1278h4.5v4h-4.5zM2127.5 1278h4.5v4h-4.5zM2137.6 1278h4.5v4h-4.5zM2147.7 1278h4.5v4h-4.5zM2157.8 1278h4.5v4h-4.5zM2167.8 1278h2.5v4h-2.5z"/>
</g>
<g opacity="0.999">
<text x="2186.6" y="338.3" font-size="64.7">Data (H1)</text>
<text x="2185.5" y="658.3" font-size="64.7">Noise (H1)</text>
<text x="2186.6" y="978.3" font-size="64.7">Data (L1)</text>
<text x="2185.5" y="1298.3" font-size="64.7">Noise (L1)</text>
<text x="902.8" y="73.1" font-size="73">Amplitude variance</text>
<text x="2046.4" y="1543.1" font-size="51.9" text-anchor="end">Frequency [Hz]</text>
<text transform="translate(107.7,158.5) rotate(-90)" font-size="51.8" text-anchor="end">Amplitude variance</text>
<text x="159" y="729.3" font-size="52">10</text><text x="214.1" y="707" font-size="34.5"><tspan dy="2.4">−</tspan><tspan dy="-2.4">47</tspan></text>
<text x="634.6" y="1512.3" font-size="52">10</text><text x="690.5" y="1489" font-size="34.5">2</text>
<text x="1873" y="1512.3" font-size="52">10</text><text x="1929.5" y="1489" font-size="34.5">3</text>
</g>
</svg></body></html>
